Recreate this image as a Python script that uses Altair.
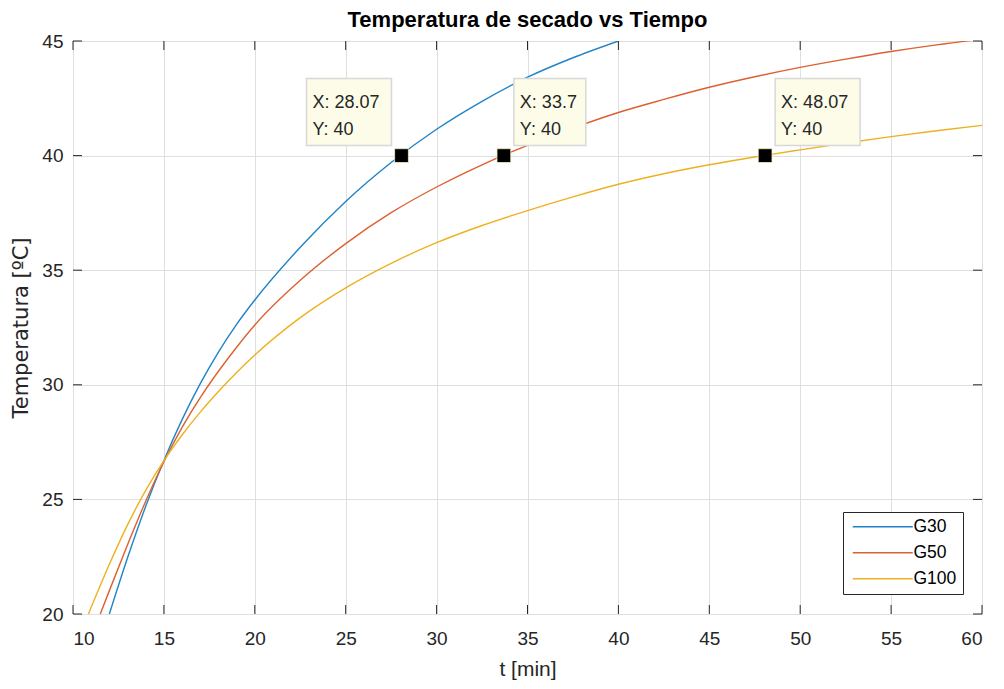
import altair as alt
import pandas as pd

# ---------------- data ----------------
series_names = ["G30", "G50", "G100"]
series_colors = ["#1F83C8", "#DD6030", "#EDB120"]

g30_t = [12, 13, 14, 15, 16, 17, 18, 19, 20, 22.5, 25, 27.5, 30, 32.5, 35, 37.5, 40]
g30_T = [20.0, 22.45, 24.7, 26.7, 28.48, 30.05, 31.43, 32.64, 33.7, 36.0, 38.0, 39.7, 41.15,
         42.37, 43.42, 44.27, 45.0]

g50_t = [11.5, 12, 13, 14, 15, 16, 17, 18, 19, 20, 22.5, 25, 27.5, 30, 32.5, 35, 37.5, 40,
         42.5, 45, 47.5, 50, 52.5, 55, 57.5, 60]
g50_T = [20.0, 21.02, 23.02, 24.92, 26.64, 28.14, 29.44, 30.59, 31.64, 32.61, 34.56, 36.16,
         37.51, 38.63, 39.6, 40.45, 41.2, 41.88, 42.45, 42.98, 43.44, 43.85, 44.21, 44.54,
         44.83, 45.08]

g100_t = [10.85, 11, 12, 13, 14, 15, 16, 17, 18, 19, 20, 22.5, 25, 27.5, 30, 32.5, 35, 37.5,
          40, 42.5, 45, 47.5, 50, 52.5, 55, 57.5, 60]
g100_T = [20.0, 20.29, 22.17, 23.89, 25.39, 26.69, 27.81, 28.81, 29.71, 30.54, 31.3, 32.93,
          34.23, 35.3, 36.2, 36.95, 37.6, 38.2, 38.75, 39.21, 39.6, 39.94, 40.25, 40.55, 40.83,
          41.085, 41.32]

tip_x = [28.07, 33.7, 48.07]
tip_y = [40, 40, 40]

x_ticks = [10, 15, 20, 25, 30, 35, 40, 45, 50, 55, 60]
y_ticks = [20, 25, 30, 35, 40, 45]

# ---------------- styling ----------------
W, H = 909, 573
FONT = "Liberation Sans"
INK = "#262626"
GRID = "#DFDFDF"
TICK_LEN = 9

rows = []
for name, ts, vs in zip(series_names, [g30_t, g50_t, g100_t], [g30_T, g50_T, g100_T]):
    for t, v in zip(ts, vs):
        rows.append({"serie": name, "t": t, "T": v})
df = pd.DataFrame(rows)

xscale = alt.Scale(domain=[10, 60], nice=False, zero=False)
yscale = alt.Scale(domain=[20, 45], nice=False, zero=False)

x_axis = alt.Axis(values=x_ticks, title="t [min]", grid=True, gridColor=GRID, gridWidth=1,
                  tickSize=0, domain=False, labelPadding=15, labelFontSize=19, labelColor=INK,
                  labelFont=FONT, titleFont=FONT, titleFontSize=21, titleColor=INK,
                  titleFontWeight="normal", titleBaseline="alphabetic", titleY=61, format="d")
y_axis = alt.Axis(values=y_ticks, title="Temperatura [ºC]", grid=True, gridColor=GRID, gridWidth=1,
                  tickSize=0, domain=False, labelPadding=10, labelFontSize=19, labelColor=INK,
                  labelFont=FONT, titleFont="DejaVu Sans", titleFontSize=21, titleColor=INK,
                  titleFontWeight="normal", titleBaseline="bottom", titleX=-42, format="d")

lines = alt.Chart(df).mark_line(strokeWidth=1.4, clip=True, interpolate="monotone").encode(
    x=alt.X("t:Q", scale=xscale, axis=x_axis),
    y=alt.Y("T:Q", scale=yscale, axis=y_axis),
    color=alt.Color("serie:N", scale=alt.Scale(domain=series_names, range=series_colors),
                    legend=alt.Legend(title=None, orient="none", legendX=770, legendY=471,
                                      symbolType="M-1,0H11", symbolSize=100, symbolStrokeWidth=1.5,
                                      labelFontSize=17.5, labelFont=FONT, labelColor="#000",
                                      labelOffset=47, rowPadding=7, padding=6,
                                      strokeColor=INK, fillColor="white", cornerRadius=0)),
)

xt = pd.DataFrame({"t": x_ticks})
yt = pd.DataFrame({"T": y_ticks})
tick_style = dict(color=INK, strokeWidth=1)
ticks_bottom = alt.Chart(xt).mark_rule(**tick_style).encode(
    x=alt.X("t:Q", scale=xscale), y=alt.value(H), y2=alt.value(H - TICK_LEN))
ticks_top = alt.Chart(xt).mark_rule(**tick_style).encode(
    x=alt.X("t:Q", scale=xscale), y=alt.value(0), y2=alt.value(TICK_LEN))
ticks_left = alt.Chart(yt).mark_rule(**tick_style).encode(
    y=alt.Y("T:Q", scale=yscale), x=alt.value(0), x2=alt.value(TICK_LEN))
ticks_right = alt.Chart(yt).mark_rule(**tick_style).encode(
    y=alt.Y("T:Q", scale=yscale), x=alt.value(W), x2=alt.value(W - TICK_LEN))

tips = pd.DataFrame({
    "t": tip_x,
    "T": tip_y,
    "lx": ["X: " + f"{v:g}" for v in tip_x],
    "ly": ["Y: " + f"{v:g}" for v in tip_y],
})

markers = alt.Chart(tips).mark_square(size=190, color="black", filled=True, opacity=1,
                                     stroke="#F4F0C0", strokeWidth=0.8).encode(
    x=alt.X("t:Q", scale=xscale), y=alt.Y("T:Q", scale=yscale))

# datatip boxes: (side, box width)
tip_style = [("left", 85), ("right", 72), ("right", 85)]
tip_layers = []
for i, (side, bw) in enumerate(tip_style):
    d = tips.iloc[[i]]
    if side == "left":
        x0, x1 = -10 - bw, -10
    else:
        x0, x1 = 10, 10 + bw
    box = alt.Chart(d).mark_rect(fill="#FCFCE8", stroke="#D8D8D8", strokeWidth=1.5,
                                 xOffset=x0, x2Offset=x1, yOffset=-77, y2Offset=-10).encode(
        x=alt.X("t:Q", scale=xscale), x2="t:Q",
        y=alt.Y("T:Q", scale=yscale), y2="T:Q")
    t1 = alt.Chart(d).mark_text(align="left", baseline="alphabetic", font=FONT, fontSize=18,
                                color=INK, dx=x0 + 6, dy=-48).encode(
        x=alt.X("t:Q", scale=xscale), y=alt.Y("T:Q", scale=yscale), text="lx:N")
    t2 = alt.Chart(d).mark_text(align="left", baseline="alphabetic", font=FONT, fontSize=18,
                                color=INK, dx=x0 + 6, dy=-21).encode(
        x=alt.X("t:Q", scale=xscale), y=alt.Y("T:Q", scale=yscale), text="ly:N")
    tip_layers += [box, t1, t2]

chart = alt.layer(lines, ticks_bottom, ticks_top, ticks_left, ticks_right, markers, *tip_layers).properties(
    width=W, height=H,
    title=alt.Title("Temperatura de secado vs Tiempo", fontSize=22, fontWeight="bold", font=FONT,
                    color="#000", anchor="middle", offset=0),
    padding={"left": 65, "top": 33, "right": 14, "bottom": 67},
    autosize=alt.AutoSizeParams(type="none"),
).configure_view(stroke=INK, strokeWidth=1).configure(font=FONT, background="white")

chart.save("out.html", embed_options={"renderer": "svg", "actions": False})
